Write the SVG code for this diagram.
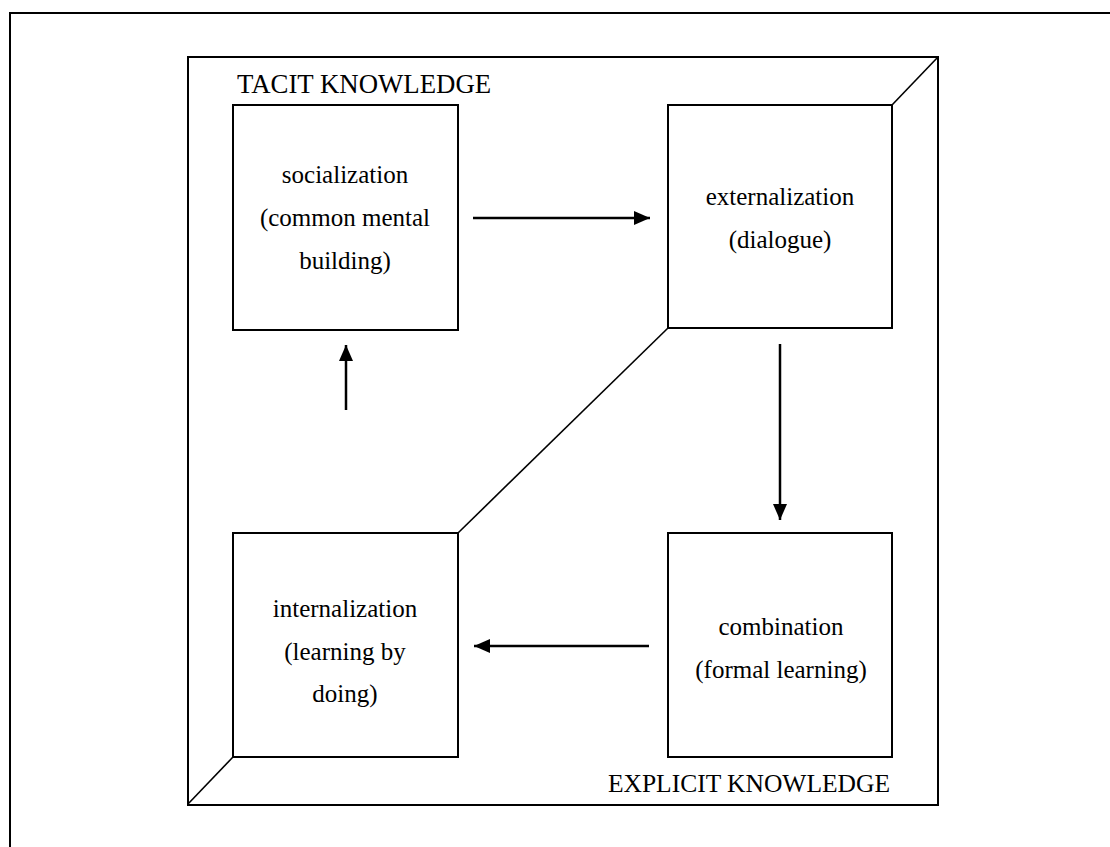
<svg xmlns="http://www.w3.org/2000/svg" width="1110" height="847" viewBox="0 0 1110 847">
  <defs>
    <style>
      .frame { fill: none; stroke: #000; stroke-width: 2; }
      .box { fill: #fff; stroke: #000; stroke-width: 2; }
      .edge { fill: none; stroke: #000; stroke-width: 2.5; }
      .line { fill: none; stroke: #000; stroke-width: 1.6; }
      text { font-family: "Liberation Serif", "Times New Roman", serif; font-size: 25px; fill: #000; }
      .label { font-size: 26.8px; }
      .mid { text-anchor: middle; }
    </style>
    <marker id="arrow" viewBox="0 0 16 14" refX="16" refY="7" markerWidth="16" markerHeight="14" markerUnits="userSpaceOnUse" orient="auto">
      <path d="M0,0 L16,7 L0,14 Z" fill="#000"/>
    </marker>
  </defs>

  <!-- page border -->
  <path class="frame" d="M10,847 V13 H1110"/>

  <!-- knowledge frame with bevelled corners -->
  <g id="frame">
    <rect class="frame" x="188" y="57" width="750" height="748"/>
    <line class="line" x1="938" y1="57" x2="892" y2="105"/>
    <line class="line" x1="188" y1="804" x2="233" y2="757"/>
    <line class="line" x1="668" y1="328" x2="458" y2="533"/>
    <text class="label" x="237" y="93">TACIT KNOWLEDGE</text>
    <text class="label" x="890" y="792" text-anchor="end" style="font-size:25.5px">EXPLICIT KNOWLEDGE</text>
  </g>

  <g id="socialization">
    <rect class="box" x="233" y="105" width="225" height="225"/>
    <text class="mid" x="345" y="183">socialization</text>
    <text class="mid" x="345" y="226">(common mental</text>
    <text class="mid" x="345" y="269">building)</text>
  </g>

  <g id="externalization">
    <rect class="box" x="668" y="105" width="224" height="223"/>
    <text class="mid" x="780" y="205">externalization</text>
    <text class="mid" x="780" y="248">(dialogue)</text>
  </g>

  <g id="internalization">
    <rect class="box" x="233" y="533" width="225" height="224"/>
    <text class="mid" x="345" y="617">internalization</text>
    <text class="mid" x="345" y="660">(learning by</text>
    <text class="mid" x="345" y="702">doing)</text>
  </g>

  <g id="combination">
    <rect class="box" x="668" y="533" width="224" height="224"/>
    <text class="mid" x="781" y="635">combination</text>
    <text class="mid" x="781" y="678">(formal learning)</text>
  </g>

  <g id="connectors">
    <line class="edge" x1="473" y1="218" x2="650" y2="218" marker-end="url(#arrow)"/>
    <line class="edge" x1="780" y1="344" x2="780" y2="520" marker-end="url(#arrow)"/>
    <line class="edge" x1="649" y1="646" x2="474" y2="646" marker-end="url(#arrow)"/>
    <line class="edge" x1="346" y1="410" x2="346" y2="345" marker-end="url(#arrow)"/>
  </g>
</svg>
